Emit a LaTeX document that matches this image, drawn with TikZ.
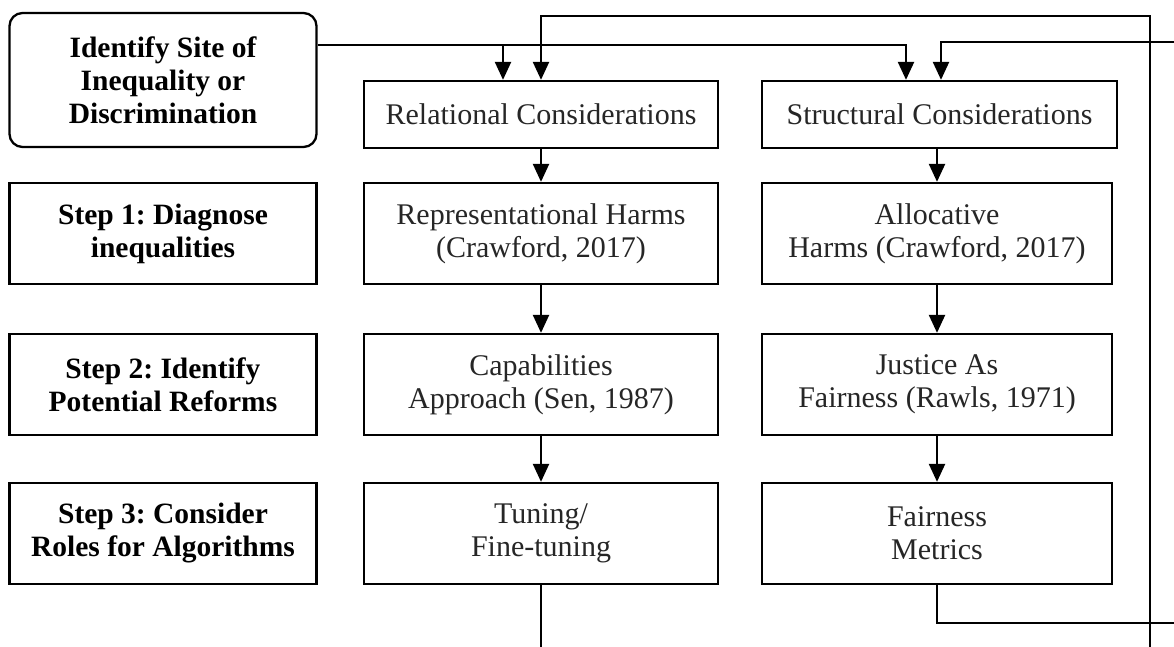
\documentclass[tikz,border=0pt]{standalone}
\usepackage{fontspec}
\setmainfont{Liberation Serif}
\usetikzlibrary{arrows.meta}
\frenchspacing
\begin{document}
\begin{tikzpicture}[x=1pt,y=-1pt,
  ln/.style={line width=2.3pt, draw=black},
  arr/.style={ln, -{Triangle[width=16pt,length=18pt]}},
  box/.style={draw, line width=2.3pt, inner sep=0pt, align=center,
    font=\fontsize{30}{33}\selectfont, text=black!85},
  midbox/.style={box, minimum width=354pt, minimum height=101pt},
  rightbox/.style={box, minimum width=350pt, minimum height=101pt},
  stepbox/.style={box, minimum width=307pt, minimum height=101pt,
    font=\bfseries\fontsize{29.5}{33}\selectfont, text=black}]
\useasboundingbox[fill=white] (0,0) rectangle (1174,647);
% left column
\node[stepbox, rounded corners=13pt, minimum height=134pt] (site) at (163,80)
  {Identify Site of\\Inequality or\\Discrimination};
\node[stepbox] (s1) at (163,233.5) {Step 1: Diagnose\\inequalities};
\node[stepbox] (s2) at (163,384.5) {Step 2: Identify\\Potential Reforms};
\node[stepbox] (s3) at (163,533.5) {Step 3: Consider\\Roles for Algorithms};
% middle column
\node[box, minimum width=354pt, minimum height=67pt] (rel) at (541,114.5) {Relational Considerations};
\node[midbox] (rep) at (541,233.5) {Representational Harms\\(Crawford, 2017)};
\node[midbox] (cap) at (541,384.5) {Capabilities\\Approach (Sen, 1987)};
\node[midbox] (tun) at (541,533.5) {Tuning/\\Fine-tuning};
% right column
\node[box, minimum width=355pt, minimum height=67pt] (str) at (939.5,114.5) {Structural Considerations};
\node[rightbox] (all) at (937,233.5) {Allocative\\Harms (Crawford, 2017)};
\node[rightbox] (jus) at (937,384.5) {Justice As\\Fairness (Rawls, 1971)};
\node[rightbox] (fm) at (937,533.5) {Fairness\\Metrics};
% vertical arrows
\draw[arr] (rel.south) -- (rep.north);
\draw[arr] (rep.south) -- (cap.north);
\draw[arr] (cap.south) -- (tun.north);
\draw[arr] (str.south -| all.north) -- (all.north);
\draw[arr] (all.south) -- (jus.north);
\draw[arr] (jus.south) -- (fm.north);
% from site to both considerations
\coordinate (j1) at (503,46);
\draw[arr] ([yshift=-33pt]site.north east) -| ([xshift=-33.5pt]str.north);
\draw[arr] (j1) -- ([xshift=-38pt]rel.north);
% feedback from tuning
\coordinate (tb) at (541,647);
\coordinate (rb) at (1150,647);
\coordinate (rt) at (1150,16);
\draw[ln] (tun.south) -- (tb);
\draw[arr] (rb) -- (rt) -| (rel.north);
% feedback from fairness metrics
\coordinate (fr) at (1174,623);
\coordinate (sr) at (1174,42);
\draw[ln] (fm.south) |- (fr);
\draw[arr] (sr) -| ([xshift=1.5pt]str.north);
\end{tikzpicture}
\end{document}
